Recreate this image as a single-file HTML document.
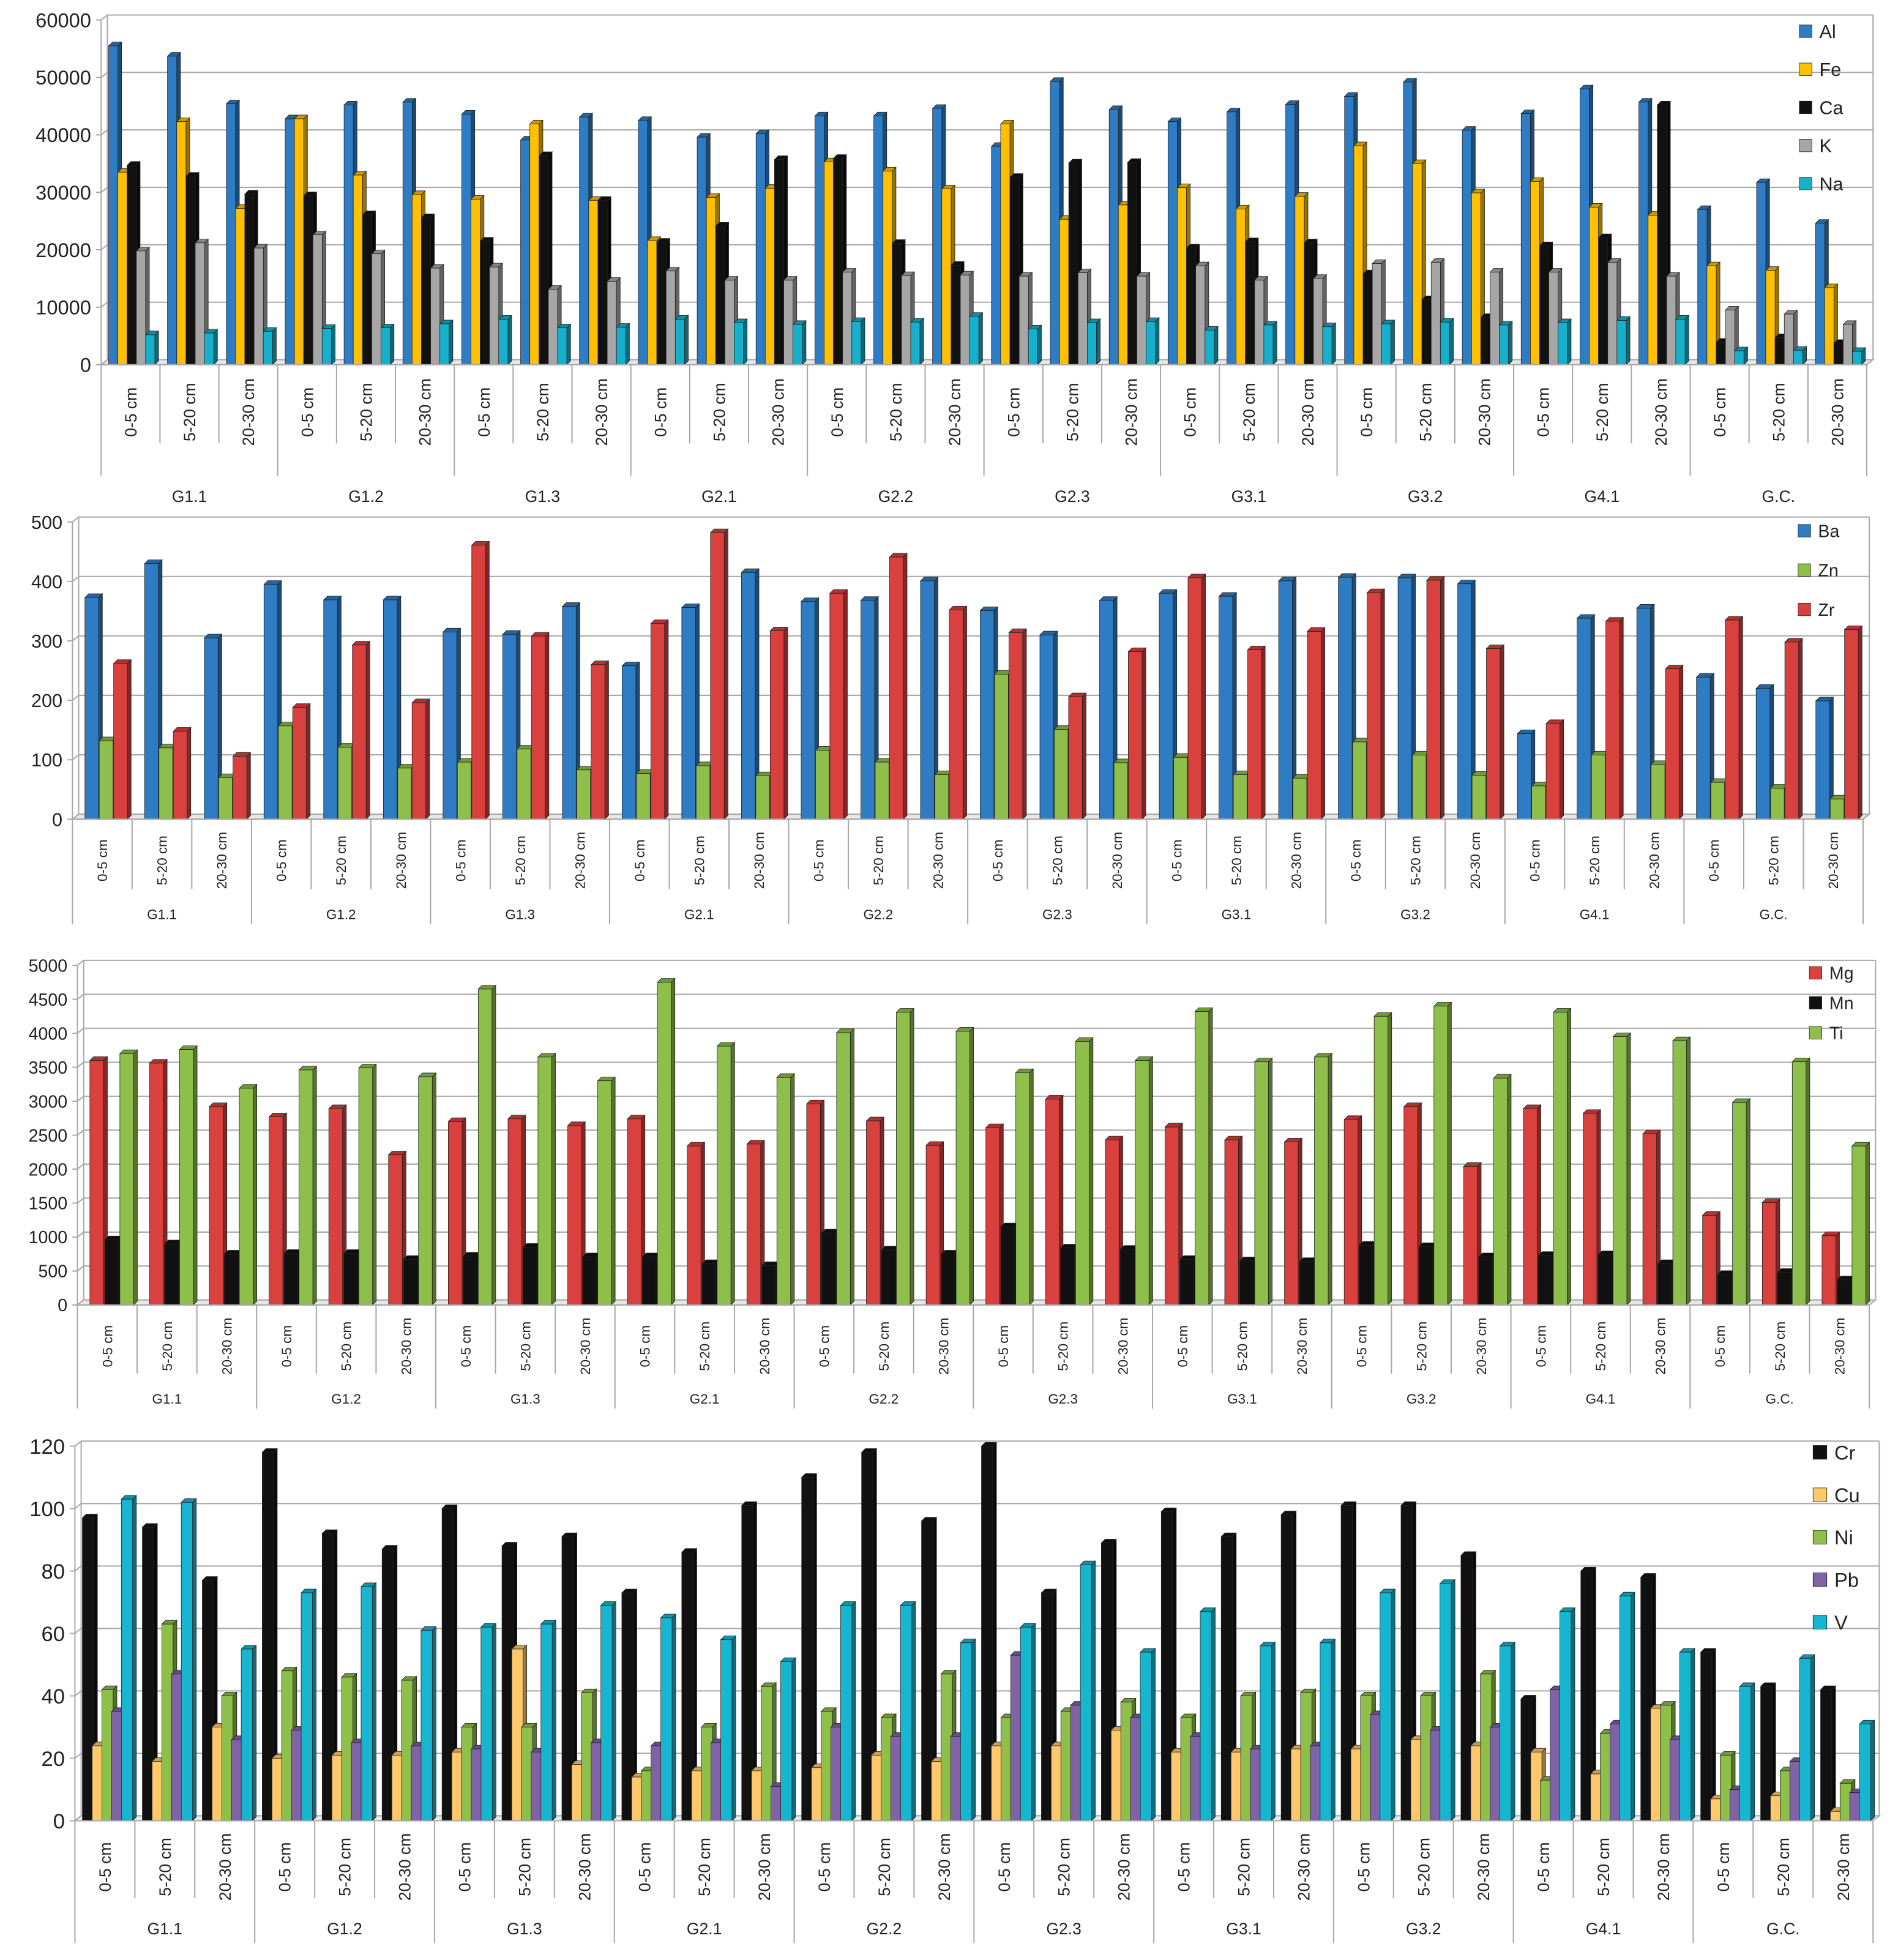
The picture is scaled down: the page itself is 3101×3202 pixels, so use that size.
<!DOCTYPE html>
<html><head><meta charset="utf-8"><style>
html,body{margin:0;padding:0;background:#fff}
svg{display:block}
text{font-family:"Liberation Sans",sans-serif;fill:#222}
</style></head><body>
<svg id="s" width="3101" height="3202" viewBox="0 0 1520 1569.5" preserveAspectRatio="none" xmlns="http://www.w3.org/2000/svg"></svg>
<script>
const groups = ["G1.1","G1.2","G1.3","G2.1","G2.2","G2.3","G3.1","G3.2","G4.1","G.C."];
const depths = ["0-5 cm","5-20 cm","20-30 cm"];
// Chart 1 series
const Al = [55500,53700,45400,42800,45200,45700,43600,39100,43100,42500,39600,40200,43300,43300,44600,38000,49300,44400,42300,44000,45300,46700,49200,40800,43700,48000,45700,27000,31700,24600];
const Fe = [33500,42300,27200,42800,33000,29600,28800,41900,28600,21600,29100,30700,35300,33700,30600,41900,25300,27800,30800,27100,29300,38100,35000,29900,31900,27400,26000,17200,16400,13400];
const Ca = [34700,32800,29700,29400,26100,25600,21500,36400,28600,21300,24100,35700,35900,21100,17300,32600,35100,35200,20300,21400,21200,15800,11300,8200,20700,22100,45200,3900,4700,3700];
const K = [19800,21200,20300,22600,19300,16800,17000,13100,14500,16300,14700,14700,16100,15500,15600,15400,16000,15400,17200,14700,15000,17600,17800,16100,16100,17800,15400,9500,8800,7000];
const Na = [5200,5500,5800,6300,6400,7100,7900,6400,6500,7900,7300,7000,7500,7400,8400,6200,7300,7500,6000,6900,6600,7100,7400,6900,7300,7700,7900,2400,2500,2300];
const ticks1 = [0,10000,20000,30000,40000,50000,60000];
// Chart 2 series
const Ba = [373,430,305,395,369,369,315,311,358,258,356,415,366,368,401,351,310,368,380,375,401,407,406,396,144,338,355,239,220,199];
const Zn = [132,120,70,157,121,86,96,118,83,77,90,73,116,96,75,244,151,95,104,75,69,130,108,74,56,108,92,62,52,34];
const Zr = [262,148,106,188,293,196,461,308,260,329,482,317,380,441,352,314,206,282,406,285,316,381,402,287,161,333,253,335,298,319];
const ticks2 = [0,100,200,300,400,500];
// Chart 3 series
const Mg = [3600,3560,2920,2770,2890,2210,2700,2740,2640,2740,2340,2370,2960,2710,2350,2610,3030,2430,2620,2430,2400,2730,2920,2040,2890,2820,2520,1320,1510,1020];
const Mn = [960,900,750,760,760,670,720,850,710,710,610,580,1060,810,750,1150,840,820,670,650,640,880,860,710,730,740,610,450,480,370];
const Ti = [3700,3760,3190,3460,3490,3360,4650,3650,3300,4750,3810,3350,4010,4310,4030,3420,3880,3600,4320,3580,3650,4250,4400,3340,4310,3950,3890,2980,3580,2340];
const ticks3 = [0,500,1000,1500,2000,2500,3000,3500,4000,4500,5000];
// Chart 4 series
const Cr = [97,94,77,118,92,87,100,88,91,73,86,101,110,118,96,120,73,89,99,91,98,101,101,85,39,80,78,54,43,42];
const Cu = [24,19,30,20,21,21,22,55,18,14,16,16,17,21,19,24,24,29,22,22,23,23,26,24,22,15,36,7,8,3];
const Ni = [42,63,40,48,46,45,30,30,41,16,30,43,35,33,47,33,35,38,33,40,41,40,40,47,13,28,37,21,16,12];
const Pb = [35,47,26,29,25,24,23,22,25,24,25,11,30,27,27,53,37,33,27,23,24,34,29,30,42,31,26,10,19,9];
const V = [103,102,55,73,75,61,62,63,69,65,58,51,69,69,57,62,82,54,67,56,57,73,76,56,67,72,54,43,52,31];
const ticks4 = [0,20,40,60,80,100,120];

const NS="http://www.w3.org/2000/svg";
const svg=document.getElementById('s');
function mk(tag,attrs,parent){const e=document.createElementNS(NS,tag);for(const k in attrs)e.setAttribute(k,attrs[k]);(parent||svg).appendChild(e);return e;}
function shade(hex,f){const n=parseInt(hex.slice(1),16);let r=(n>>16)&255,g=(n>>8)&255,b=n&255;r=Math.round(r*f);g=Math.round(g*f);b=Math.round(b*f);return `rgb(${r},${g},${b})`;}

const charts=[
 {id:'major',series:[["Al",Al,"#2e7dc4"],["Fe",Fe,"#ffc000"],["Ca",Ca,"#111111"],["K",K,"#a6a6a6"],["Na",Na,"#17b0cc"]],ticks:ticks1,max:60000,
  x0:81,x1:1495,y0:292,ytop:16,tickFs:16,catFs:13,grpFs:13,off:6,bw:7.4,step:7.4,dep:3,catEnd:355,grpEnd:381,grpY:402,catY:330,
  leg:{x:1441,y:25,dy:30.5,fs:15,sq:10}},
 {id:'barium',series:[["Ba",Ba,"#2e7dc4"],["Zn",Zn,"#8dbf4a"],["Zr",Zr,"#d9413f"]],ticks:ticks2,max:500,
  x0:58,x1:1492,y0:656,ytop:418,tickFs:15,catFs:11,grpFs:11,off:10,bw:11,step:11.5,dep:3,catEnd:712,grpEnd:740,grpY:736,catY:689,
  leg:{x:1440,y:425,dy:31.5,fs:14,sq:10}},
 {id:'magnesium',series:[["Mg",Mg,"#d9413f"],["Mn",Mn,"#111111"],["Ti",Ti,"#8dbf4a"]],ticks:ticks3,max:5000,
  x0:62,x1:1497,y0:1045,ytop:773,tickFs:14,catFs:11,grpFs:11,off:10,bw:11,step:12,dep:3,catEnd:1100,grpEnd:1128,grpY:1124,catY:1078,
  leg:{x:1449,y:779,dy:24,fs:14,sq:10}},
 {id:'trace',series:[["Cr",Cr,"#111111"],["Cu",Cu,"#ffc96b"],["Ni",Ni,"#8dbf4a"],["Pb",Pb,"#8063a6"],["V",V,"#17b6d0"]],ticks:ticks4,max:120,
  x0:60,x1:1500,y0:1458,ytop:1158,tickFs:17,catFs:13,grpFs:13,off:6,bw:9,step:7.8,dep:3,catEnd:1520,grpEnd:1556,grpY:1549,catY:1495,
  leg:{x:1452,y:1163,dy:34,fs:16,sq:11}}
];

charts.forEach(c=>{
 const g=mk('g',{});
 
 
 const yS=v=>c.y0-(v/c.max)*(c.y0-c.ytop);
 const nC=30, cw=(c.x1-c.x0)/nC;
 const xC=i=>c.x0+i*cw;
 // gridlines and back wall
 c.ticks.forEach(t=>{
  const y=yS(t);
  const gl=mk('polyline',{points:`${c.x0-4},${y} ${c.x0},${y} ${c.x0+5},${y-4} ${c.x1+5},${y-4}`,fill:'none',stroke:'#a8a8a8','stroke-width':1},g);
  
  
  const tl=mk('text',{x:c.x0-8,y:y+c.tickFs*0.36,'font-size':c.tickFs,'text-anchor':'end'},g);
  tl.textContent=t;
  
  
 });
 mk('line',{x1:c.x0,y1:c.y0,x2:c.x0,y2:c.ytop,stroke:'#a8a8a8'},g);
 mk('line',{x1:c.x0+5,y1:c.y0-4,x2:c.x0+5,y2:c.ytop-4,stroke:'#a8a8a8'},g);
 mk('line',{x1:c.x1+5,y1:c.y0-4,x2:c.x1+5,y2:c.ytop-4,stroke:'#a8a8a8'},g);
 mk('polygon',{points:`${c.x0},${c.y0} ${c.x0+5},${c.y0-4} ${c.x1+5},${c.y0-4} ${c.x1},${c.y0}`,fill:'#e8e8e8',stroke:'#a8a8a8'},g);
 // bars
 const bg=mk('g',{},g);
 c.series.forEach((s,si)=>{
  const [name,vals,col]=s;
  vals.forEach((v,i)=>{
   const x=xC(i)+c.off+si*c.step, y=yS(v), w=c.bw, d=c.dep;
   const b=mk('g',{},bg);
   
   
   mk('polygon',{points:`${x+w},${c.y0} ${x+w+d},${c.y0-d} ${x+w+d},${y-d} ${x+w},${y}`,fill:shade(col,0.6),stroke:'#222','stroke-width':0.4},b);
   mk('polygon',{points:`${x},${y} ${x+d},${y-d} ${x+w+d},${y-d} ${x+w},${y}`,fill:shade(col,0.8),stroke:'#222','stroke-width':0.4},b);
   mk('rect',{x:x,y:y,width:w,height:c.y0-y,fill:col,stroke:'#222','stroke-width':0.4},b);
  });
 });
 // category axis
 for(let i=0;i<=nC;i++){
  const x=xC(i);
  const isG=i%3===0;
  mk('line',{x1:x,y1:c.y0,x2:x,y2:isG?c.grpEnd:c.catEnd,stroke:'#a8a8a8'},g);
  if(i<nC){
   const cx=x+cw/2;
   const t=mk('text',{x:0,y:0,'font-size':c.catFs,'text-anchor':'middle',transform:`translate(${cx+c.catFs*0.36},${c.catY}) rotate(-90)`},g);
   t.textContent=depths[i%3];
   
   
  }
 }
 mk('line',{x1:c.x0,y1:c.y0,x2:c.x1,y2:c.y0,stroke:'#a8a8a8'},g);
 groups.forEach((gn,gi)=>{
  const t=mk('text',{x:xC(gi*3)+cw*1.5,y:c.grpY,'font-size':c.grpFs,'text-anchor':'middle'},g);
  t.textContent=gn;
  
  
 });
 // legend
 c.series.forEach((s,si)=>{
  const L=c.leg, y=L.y+si*L.dy;
  const e=mk('g',{},g);
  
  
  mk('rect',{x:L.x,y:y-L.sq/2,width:L.sq,height:L.sq,fill:s[2],stroke:'#222','stroke-width':0.4},e);
  const t=mk('text',{x:L.x+L.sq+6,y:y+L.fs*0.36,'font-size':L.fs},e);
  t.textContent=s[0];
 });
});
</script>
</body></html>
